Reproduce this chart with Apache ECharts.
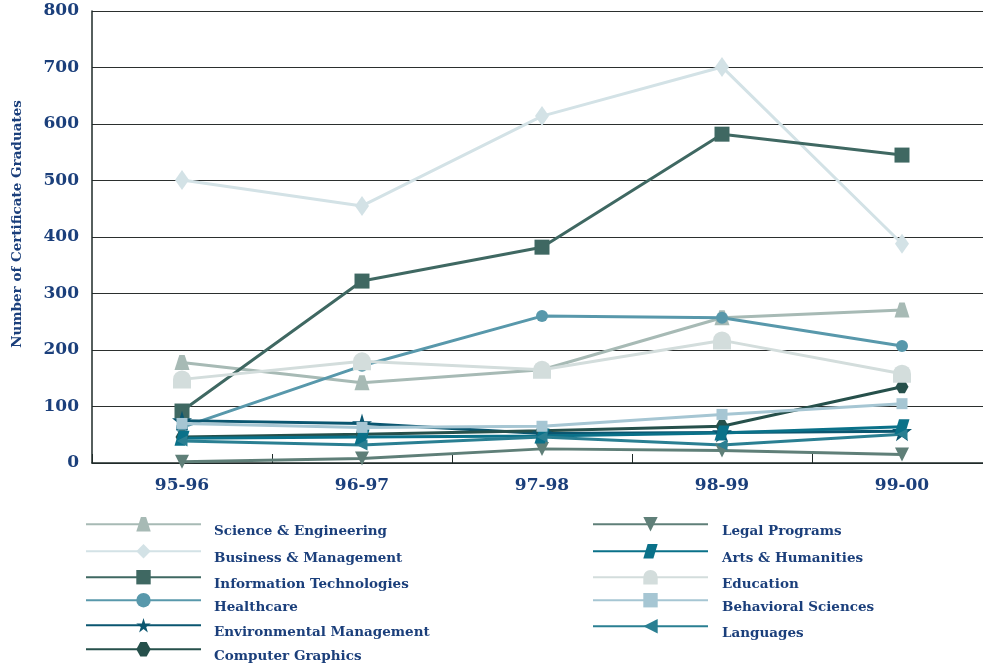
<!DOCTYPE html>
<html>
<head>
<meta charset="utf-8">
<script src="https://cdn.jsdelivr.net/npm/echarts@6/dist/echarts.min.js"></script>
<style>
  html, body { margin: 0; padding: 0; background: #ffffff; overflow: hidden; }
  #chart { width: 992px; height: 672px; }
</style>
</head>
<body>
<div id="chart"></div>
<script>
// Academic years
const categories = ['95-96', '96-97', '97-98', '98-99', '99-00'];

// Certificate graduates per program area
const science       = [178, 142, 165, 257, 271];
const business      = [501, 455, 614, 701, 388];
const infoTech      = [92, 322, 382, 582, 545];
const healthcare    = [63, 172, 260, 257, 207];
const environmental = [75, 70, 52, 54, 56];
const compGraphics  = [46, 51, 57, 65, 135];
const legal         = [2, 8, 25, 22, 15];
const arts          = [44, 46, 48, 53, 64];
const education     = [148, 180, 165, 217, 158];
const behavioral    = [70, 63, 65, 86, 105];
const languages     = [39, 32, 46, 32, 51];

const yTicks = [0, 100, 200, 300, 400, 500, 600, 700, 800];

const TEXT = '#1b3f7b';
const FONT = 'DejaVu Serif';

const SYM = {
  trap: 'path://M32,0 L68,0 L100,100 L0,100 Z',
  star: 'path://M50,0 L61,35 L98,35 L68,57 L79,91 L50,70 L21,91 L32,57 L2,35 L39,35 Z',
  hex: 'path://M28,0 L72,0 L100,50 L72,100 L28,100 L0,50 Z',
  para: 'path://M30,0 L100,0 L70,100 L0,100 Z',
  dome: 'path://M0,100 L0,50 A50,50 0 0 1 100,50 L100,100 Z'
};

const defs = [
  { name: 'Science & Engineering',    data: science,       color: '#a7bab5', symbol: SYM.trap,   size: 15 },
  { name: 'Business & Management',    data: business,      color: '#d3e2e6', symbol: 'diamond',  size: [14, 20] },
  { name: 'Information Technologies', data: infoTech,      color: '#3f6862', symbol: 'rect',     size: 15 },
  { name: 'Healthcare',               data: healthcare,    color: '#5898ab', symbol: 'circle',   size: 12 },
  { name: 'Environmental Management', data: environmental, color: '#0a5670', symbol: SYM.star,   size: 20 },
  { name: 'Computer Graphics',        data: compGraphics,  color: '#26504b', symbol: SYM.hex,    size: 13 },
  { name: 'Legal Programs',           data: legal,         color: '#5f7f78', symbol: 'triangle', size: 14, rotate: 180 },
  { name: 'Arts & Humanities',        data: arts,          color: '#0a7189', symbol: SYM.para,   size: 15 },
  { name: 'Education',                data: education,     color: '#d3dddc', symbol: SYM.dome,   size: 18 },
  { name: 'Behavioral Sciences',      data: behavioral,    color: '#a6c6d3', symbol: 'rect',     size: 11 },
  { name: 'Languages',                data: languages,     color: '#2a7f92', symbol: 'triangle', size: 11, rotate: 90 }
];

const series = defs.map(d => ({
  name: d.name,
  type: 'line',
  data: d.data,
  symbol: d.symbol,
  symbolSize: d.size,
  symbolRotate: d.rotate || 0,
  showAllSymbol: true,
  lineStyle: { color: d.color, width: 3 },
  itemStyle: { color: d.color, borderWidth: 0 },
  emphasis: { disabled: true },
  animation: false
}));

// Two legend columns, one legend block per entry; the label sits a little below its line
const leftRows = [526, 553, 579, 602, 627, 651];
const rightRows = [526, 553, 579, 602, 628];
const legends = defs.map((d, i) => {
  const isLeft = i < 6;
  const lineY = isLeft ? leftRows[i] : rightRows[i - 6];
  return {
    data: [d.name],
    left: isLeft ? 85 : 592,
    top: lineY - 9,
    padding: 0,
    itemWidth: 115,
    itemHeight: 18,
    selectedMode: false,
    formatter: name => '{t|' + name + '}',
    textStyle: {
      rich: {
        t: {
          fontFamily: FONT,
          fontWeight: 'bold',
          fontSize: 13.5,
          color: TEXT,
          padding: [14, 0, 0, isLeft ? 8 : 9]
        }
      }
    }
  };
});

const chart = echarts.init(document.getElementById('chart'), null, { renderer: 'canvas' });
chart.setOption({
  backgroundColor: '#ffffff',
  animation: false,
  grid: { left: 92, top: 11, bottom: 209, right: 0, containLabel: false },
  xAxis: {
    type: 'category',
    data: categories,
    boundaryGap: true,
    axisLine: { lineStyle: { color: '#1e2a28', width: 1.5 } },
    axisTick: { show: true, inside: true, length: 9, alignWithLabel: false, lineStyle: { color: '#1e2a28' } },
    axisLabel: { margin: 14, fontFamily: FONT, fontWeight: 'bold', fontSize: 17, color: TEXT }
  },
  yAxis: {
    type: 'value',
    min: 0,
    max: 800,
    interval: 100,
    axisLine: { show: true, lineStyle: { color: '#1e2a28', width: 1.5 } },
    axisTick: { show: false },
    splitLine: { lineStyle: { color: '#2b2f2e', width: 1 } },
    axisLabel: {
      margin: 13, fontFamily: FONT, fontWeight: 'bold', fontSize: 17, color: TEXT,
      formatter: v => (yTicks.indexOf(v) >= 0 ? String(v) : '')
    }
  },
  legend: legends,
  graphic: [{
    type: 'text',
    x: 17,
    y: 224,
    rotation: Math.PI / 2,
    style: {
      text: 'Number of Certificate Graduates',
      fontFamily: FONT,
      fontWeight: 'bold',
      fontSize: 13.5,
      fill: TEXT,
      textAlign: 'center',
      textVerticalAlign: 'middle'
    }
  }],
  series: series
});
</script>
</body>
</html>
